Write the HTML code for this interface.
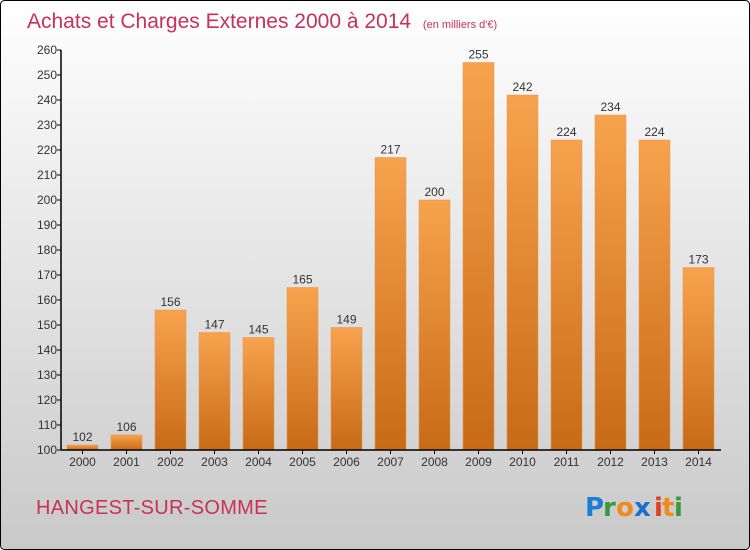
<!DOCTYPE html>
<html><head><meta charset="utf-8"><style>
body{margin:0;width:750px;height:550px;overflow:hidden}
svg{display:block;font-family:"Liberation Sans","DejaVu Sans",sans-serif}
</style></head><body>
<svg id="c" width="750" height="550">
<defs>
<linearGradient id="bg" x1="0" y1="0" x2="0" y2="1"><stop offset="0" stop-color="#ffffff"/><stop offset="1" stop-color="#c9c9c9"/></linearGradient>
<linearGradient id="bar" x1="0" y1="0" x2="0" y2="1"><stop offset="0" stop-color="#f7a34e"/><stop offset="1" stop-color="#c86a16"/></linearGradient>
</defs>
<rect x="0.5" y="0.5" width="749" height="549" rx="4" fill="url(#bg)" stroke="#000"/>
<text x="27" y="28" font-size="21" fill="#c8305e">Achats et Charges Externes 2000 à 2014 <tspan font-size="11" dx="6">(en milliers d'€)</tspan></text>
<text x="36" y="514" font-size="20" fill="#c8305e" letter-spacing="0.3">HANGEST-SUR-SOMME</text>
<g font-size="26" font-weight="bold" font-family="'DejaVu Sans',sans-serif">
<text x="585" y="516" fill="#1a7fd4">P</text><text x="603" y="516" fill="#3a9a3a">r</text><text x="616" y="516" fill="#f28a1a">o</text><text x="634" y="516" fill="#1a6fd4">x</text><text x="654" y="516" fill="#e0401a">i</text><text x="662" y="516" fill="#f28a1a">t</text><text x="674" y="516" fill="#3a9a3a">i</text>
</g>
<g id="plot"></g>
</svg>
<script>
const categories=["2000","2001","2002","2003","2004","2005","2006","2007","2008","2009","2010","2011","2012","2013","2014"];
const values=[102,106,156,147,145,165,149,217,200,255,242,224,234,224,173];
const yTicks=[100,110,120,130,140,150,160,170,180,190,200,210,220,230,240,250,260];
const NS="http://www.w3.org/2000/svg";
const g=document.getElementById('plot');
const x0=61,band=44,bw=31,yMin=100,yMax=260,yTop=50,yBot=450;
const y=v=>yBot-(v-yMin)/(yMax-yMin)*(yBot-yTop);
function mk(t,a,txt){const e=document.createElementNS(NS,t);for(const k in a)e.setAttribute(k,a[k]);if(txt!==undefined)e.textContent=txt;g.appendChild(e);return e;}
categories.forEach((c,i)=>{
 const bx=x0+i*band+6;
 const r=mk('rect',{x:bx,y:y(values[i]),width:bw,height:yBot-y(values[i]),fill:'url(#bar)',stroke:'#e8944a','stroke-width':0.5});
 
 
 const l=mk('text',{x:bx+bw/2,y:y(values[i])-4,'text-anchor':'middle','font-size':12,fill:'#333'},values[i]);
 
 
 const xl=mk('text',{x:bx+bw/2,y:466,'text-anchor':'middle','font-size':12,fill:'#333'},c);
 
 
 const xt=mk('line',{x1:bx+bw/2,x2:bx+bw/2,y1:yBot,y2:yBot+4,stroke:'#000'});
 
 
});
yTicks.forEach(v=>{
 const t=mk('line',{x1:x0-4,x2:x0,y1:y(v),y2:y(v),stroke:'#000'});
 
 
 const l=mk('text',{x:x0-4,y:y(v)+4,'text-anchor':'end','font-size':12,fill:'#333'},v);
 
 
});
const ya=mk('line',{x1:x0,x2:x0,y1:yTop,y2:yBot,stroke:'#000','stroke-width':1.5});


const xa=mk('line',{x1:x0,x2:x0+categories.length*band,y1:yBot,y2:yBot,stroke:'#000','stroke-width':1.5});


</script>
</body></html>
